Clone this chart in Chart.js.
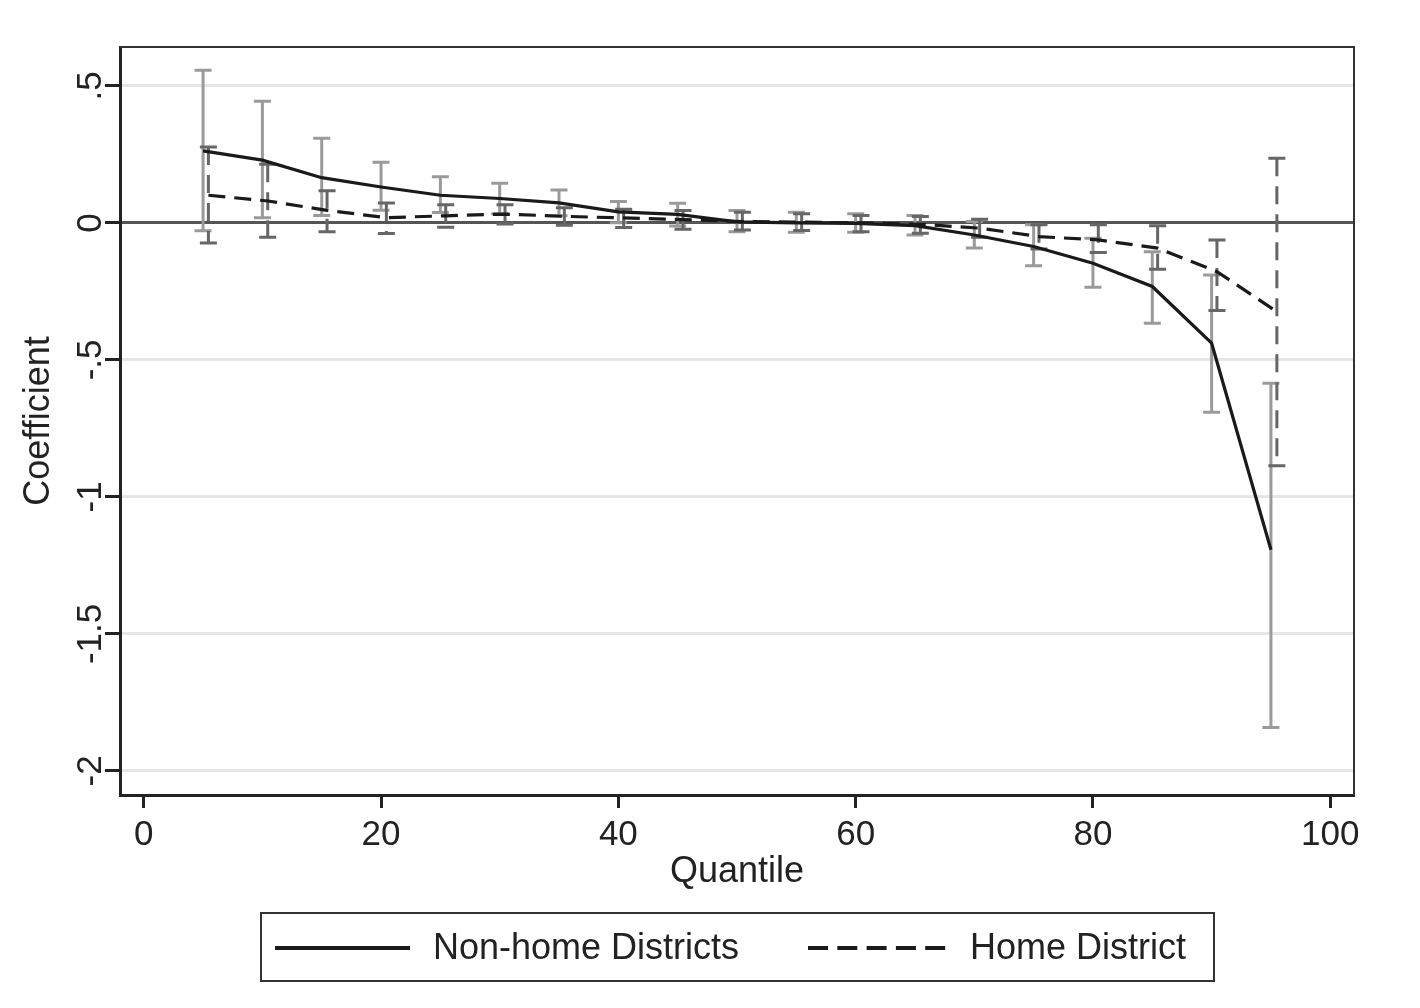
<!DOCTYPE html>
<html>
<head>
<meta charset="utf-8">
<script src="https://cdn.jsdelivr.net/npm/chart.js@4/dist/chart.umd.min.js"></script>
<style>
  html, body { margin: 0; padding: 0; background: #fff; }
  #wrap { width: 1420px; height: 1008px; }
</style>
</head>
<body>
<div id="wrap"><canvas id="chart" width="1420" height="1008"></canvas></div>
<script>
// Quantile regression coefficients
const quantiles = [5, 10, 15, 20, 25, 30, 35, 40, 45, 50, 55, 60, 65, 70, 75, 80, 85, 90, 95];
// home district estimates are plotted slightly to the right of each quantile
const homeQuantiles = [5.45, 10.45, 15.45, 20.45, 25.45, 30.45, 35.45, 40.45, 45.45, 50.45, 55.45, 60.45, 65.45, 70.45, 75.45, 80.45, 85.45, 90.45, 95.5];

const nonHome = [0.263, 0.229, 0.165, 0.131, 0.101, 0.089, 0.073, 0.040, 0.031, 0.004, 0.000, -0.002, -0.010, -0.044, -0.086, -0.147, -0.232, -0.439, -1.193];
const nonHomeHigh = [0.557, 0.444, 0.309, 0.221, 0.168, 0.145, 0.120, 0.078, 0.072, 0.045, 0.039, 0.033, 0.027, 0.005, -0.007, -0.056, -0.105, -0.190, -0.585];
const nonHomeLow = [-0.029, 0.019, 0.027, 0.046, 0.038, 0.033, 0.026, 0.001, -0.011, -0.032, -0.034, -0.034, -0.044, -0.092, -0.156, -0.235, -0.366, -0.691, -1.842];

const home = [0.101, 0.080, 0.046, 0.019, 0.026, 0.032, 0.024, 0.018, 0.012, 0.005, 0.003, 0.000, -0.005, -0.019, -0.050, -0.062, -0.092, -0.178, -0.324];
const homeHigh = [0.277, 0.214, 0.117, 0.073, 0.066, 0.066, 0.055, 0.050, 0.045, 0.039, 0.033, 0.027, 0.023, 0.013, -0.007, -0.007, -0.010, -0.062, 0.236];
const homeLow = [-0.073, -0.052, -0.032, -0.039, -0.016, -0.004, -0.009, -0.017, -0.023, -0.026, -0.028, -0.032, -0.038, -0.052, -0.095, -0.108, -0.169, -0.320, -0.886];

const xTicks = [0, 20, 40, 60, 80, 100];
const yTicks = [-2, -1.5, -1, -0.5, 0, 0.5];
const yTickLabels = ['-2', '-1.5', '-1', '-.5', '0', '.5'];

const FONT = "'Liberation Sans', Arial, Helvetica, sans-serif";
const INK = '#222222';

Chart.defaults.font.family = FONT;
Chart.defaults.color = INK;

// Confidence intervals drawn with caps, behind the lines
const ciPlugin = {
  id: 'ciBars',
  beforeDatasetsDraw(chart) {
    const { ctx, scales: { x, y } } = chart;
    const bars = [
      { xs: quantiles, lo: nonHomeLow, hi: nonHomeHigh, color: '#9a9a9a', dash: [] },
      { xs: homeQuantiles, lo: homeLow, hi: homeHigh, color: '#666666', dash: [18, 10] },
    ];
    const cap = 8.5;
    ctx.save();
    bars.forEach(b => {
      ctx.strokeStyle = b.color;
      ctx.lineWidth = 3;
      b.xs.forEach((q, i) => {
        const px = x.getPixelForValue(q);
        const top = y.getPixelForValue(b.hi[i]);
        const bot = y.getPixelForValue(b.lo[i]);
        ctx.setLineDash(b.dash);
        ctx.beginPath();
        ctx.moveTo(px, top);
        ctx.lineTo(px, bot);
        ctx.stroke();
        ctx.setLineDash([]);
        ctx.beginPath();
        ctx.moveTo(px - cap, top);
        ctx.lineTo(px + cap, top);
        ctx.moveTo(px - cap, bot);
        ctx.lineTo(px + cap, bot);
        ctx.stroke();
      });
    });
    ctx.restore();
  },
  afterDraw(chart) {
    const { ctx, chartArea: a, scales: { y } } = chart;
    ctx.save();
    // top and right frame
    ctx.strokeStyle = '#333';
    ctx.lineWidth = 2;
    ctx.beginPath();
    ctx.moveTo(a.left, a.top);
    ctx.lineTo(a.right, a.top);
    ctx.lineTo(a.right, a.bottom);
    ctx.stroke();

    // rotated y tick labels
    ctx.fillStyle = INK;
    ctx.font = `35px ${FONT}`;
    ctx.textAlign = 'center';
    ctx.textBaseline = 'alphabetic';
    yTicks.forEach((v, i) => {
      ctx.save();
      ctx.translate(101, y.getPixelForValue(v));
      ctx.rotate(-Math.PI / 2);
      ctx.fillText(yTickLabels[i], 0, 0);
      ctx.restore();
    });

    // legend box
    const box = { left: 261, top: 913, width: 953, height: 68 };
    ctx.strokeStyle = '#333';
    ctx.lineWidth = 2;
    ctx.strokeRect(box.left, box.top, box.width, box.height);
    const cy = box.top + box.height / 2 + 1;
    const entries = [
      { ds: chart.data.datasets[0], x0: 275, x1: 410, tx: 433 },
      { ds: chart.data.datasets[1], x0: 808, x1: 946, tx: 970 },
    ];
    ctx.font = `36px ${FONT}`;
    ctx.textAlign = 'left';
    ctx.textBaseline = 'middle';
    entries.forEach(e => {
      ctx.strokeStyle = e.ds.borderColor;
      ctx.lineWidth = 4;
      ctx.setLineDash(e.ds.borderDash && e.ds.borderDash.length ? [20, 9.3] : []);
      ctx.beginPath();
      ctx.moveTo(e.x0, cy);
      ctx.lineTo(e.x1, cy);
      ctx.stroke();
      ctx.setLineDash([]);
      ctx.fillText(e.ds.label, e.tx, cy + 1);
    });
    ctx.restore();
  },
};

new Chart(document.getElementById('chart'), {
  type: 'line',
  data: {
    datasets: [
      {
        label: 'Non-home Districts',
        data: quantiles.map((q, i) => ({ x: q, y: nonHome[i] })),
        borderColor: '#1a1a1a',
        borderWidth: 3.2,
        pointRadius: 0,
        tension: 0,
      },
      {
        label: 'Home District',
        data: homeQuantiles.map((q, i) => ({ x: q, y: home[i] })),
        borderColor: '#1a1a1a',
        borderWidth: 3.2,
        borderDash: [17, 9],
        pointRadius: 0,
        tension: 0,
      },
    ],
  },
  options: {
    responsive: false,
    animation: false,
    events: [],
    layout: {
      padding: { left: 0, top: 47, right: 66, bottom: 113 },
    },
    plugins: {
      legend: { display: false },
      tooltip: { enabled: false },
    },
    scales: {
      x: {
        type: 'linear',
        min: -2,
        max: 102,
        afterBuildTicks: scale => { scale.ticks = xTicks.map(v => ({ value: v })); },
        afterFit: scale => { scale.height = 100; },
        border: { color: INK, width: 3 },
        grid: {
          drawOnChartArea: false,
          tickColor: INK,
          tickWidth: 3,
          tickLength: 13,
        },
        ticks: {
          font: { size: 35 },
          color: INK,
          padding: 6,
          maxRotation: 0,
        },
        title: {
          display: true,
          text: 'Quantile',
          font: { size: 36 },
          color: INK,
          padding: { top: 0, bottom: 1 },
        },
      },
      y: {
        type: 'linear',
        min: -2.088,
        max: 0.642,
        afterBuildTicks: scale => { scale.ticks = yTicks.map(v => ({ value: v })); },
        afterFit: scale => { scale.width = 120; },
        border: { color: INK, width: 3 },
        grid: {
          color: c => (c.tick && c.tick.value === 0 ? '#555555' : '#e6e6e6'),
          lineWidth: 3,
          tickColor: INK,
          tickWidth: 3,
          tickLength: 15,
        },
        ticks: {
          display: false,
        },
        title: {
          display: true,
          text: 'Coefficient',
          font: { size: 36 },
          color: INK,
          padding: { top: 17, bottom: 0 },
        },
      },
    },
  },
  plugins: [ciPlugin],
});
</script>
</body>
</html>
